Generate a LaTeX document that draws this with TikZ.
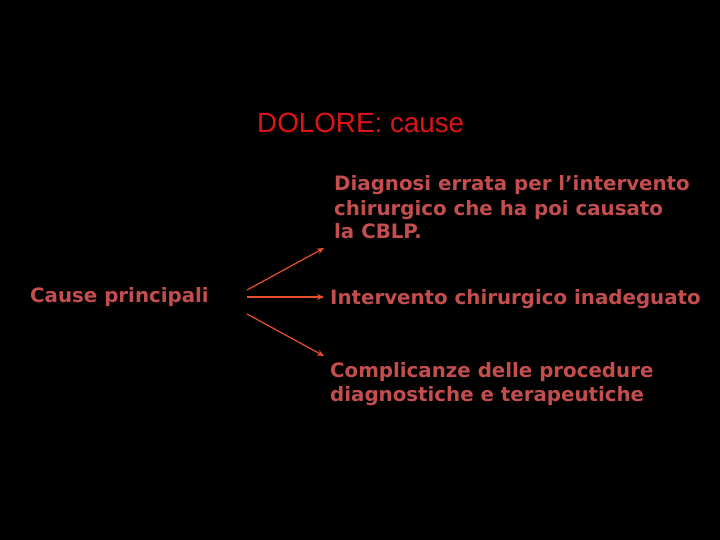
\documentclass[tikz,border=0pt]{standalone}
\usepackage{fontspec}
\setmainfont{Liberation Sans}
\newfontfamily\verd{DejaVu Sans}
\usetikzlibrary{arrows.meta}
\definecolor{txtred}{RGB}{196,78,78}
\definecolor{titred}{RGB}{222,20,20}
\definecolor{arrred}{RGB}{232,80,45}
\tikzset{
  body/.style={inner sep=0pt, anchor=base west, text=txtred, align=left,
    font=\verd\bfseries\fontsize{19.8}{24}\selectfont},
  conn/.style={draw=arrred, line width=1.2pt, -{Stealth[length=7pt,width=6pt]}}
}
\begin{document}
\begin{tikzpicture}[x=1pt,y=-1pt]
\fill[black] (0,0) rectangle (720,540);
\useasboundingbox (0,0) rectangle (720,540);
\node[inner sep=0pt, anchor=base west, text=titred, font=\fontsize{27.8}{30}\selectfont] (title) at (257,133) {DOLORE: cause};
\node[body] (diag) at (334,239) {Diagnosi errata per l’intervento\\chirurgico che ha poi causato\\la CBLP.};
\node[body] (cause) at (30,302) {Cause principali};
\node[body] (interv) at (330,304) {Intervento chirurgico inadeguato};
\node[body] (compl) at (330,401) {Complicanze delle procedure\\diagnostiche e terapeutiche};
\coordinate (s1) at (247,290);
\coordinate (s2) at (247,297);
\coordinate (s3) at (247,314);
\coordinate (e1) at (324,248);
\coordinate (e2) at (324,297);
\coordinate (e3) at (324,356);
\draw[conn] (s1) -- (e1);
\draw[conn] (s2) -- (e2);
\draw[conn] (s3) -- (e3);
\end{tikzpicture}
\end{document}
